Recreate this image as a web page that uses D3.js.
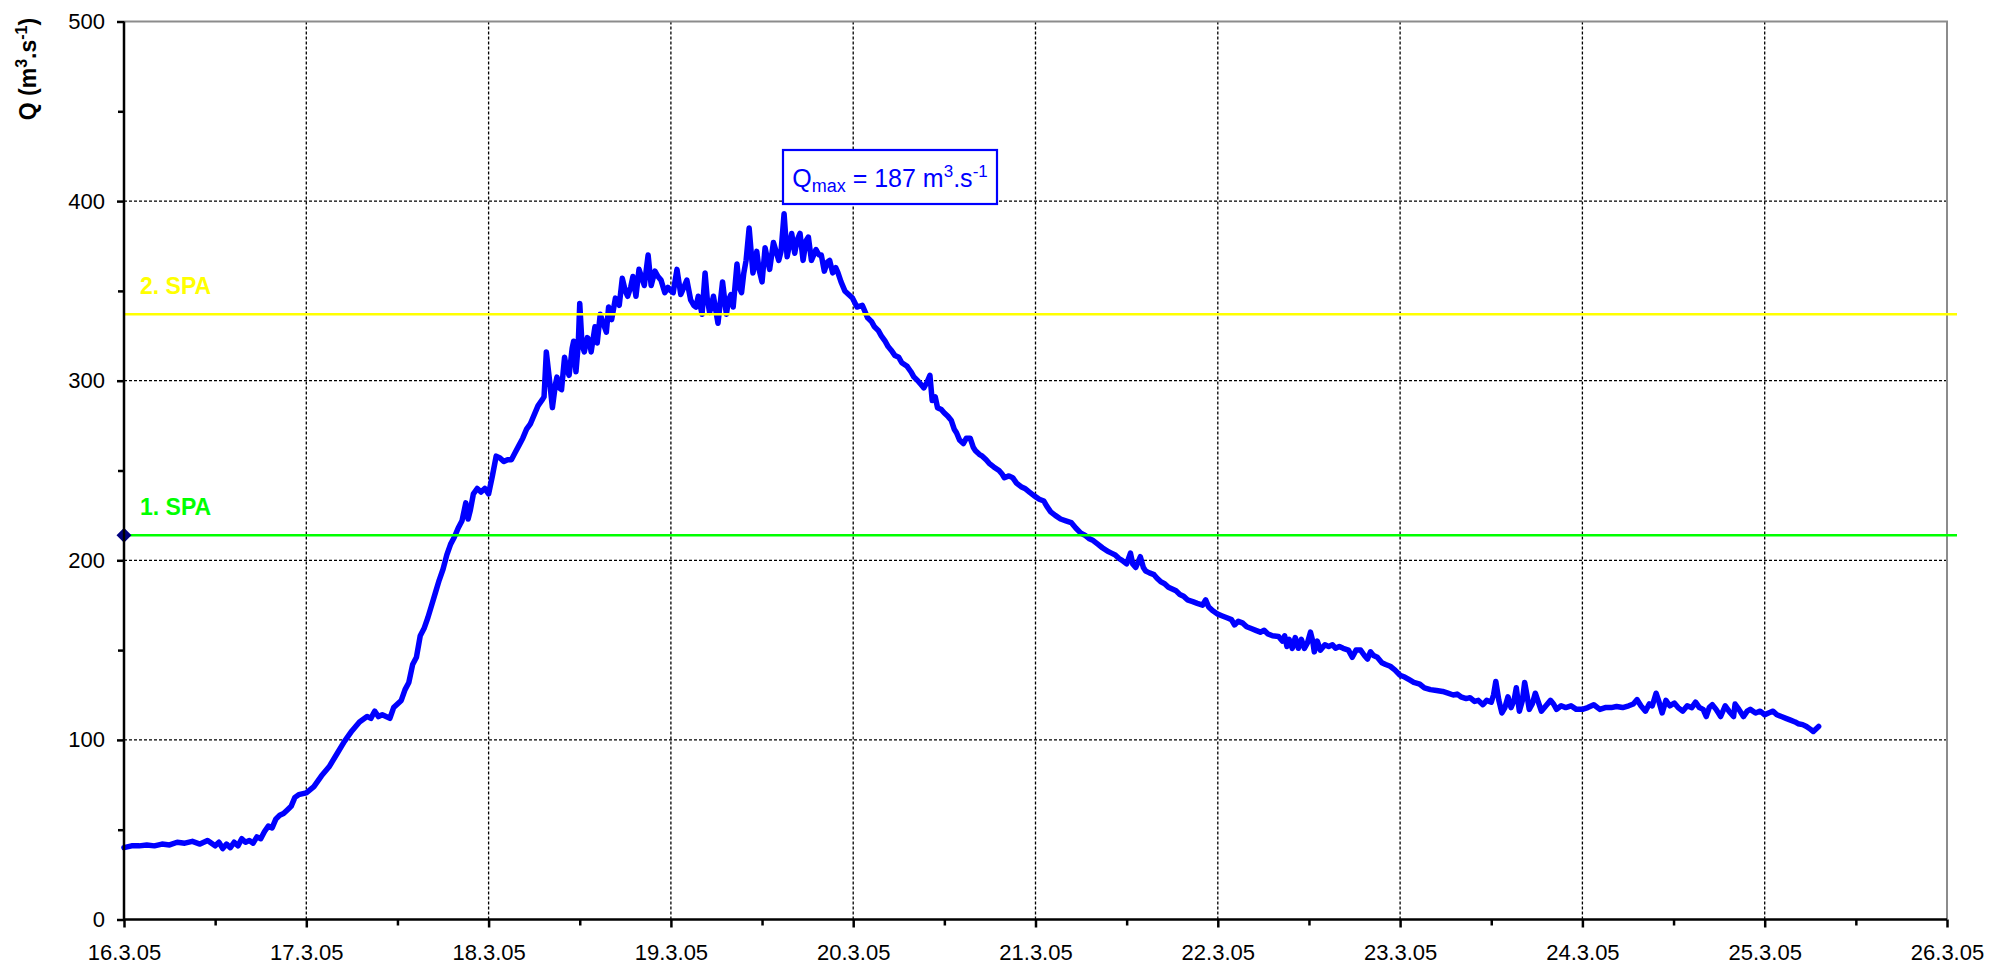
<!DOCTYPE html>
<html>
<head>
<meta charset="utf-8">
<script src="https://cdn.jsdelivr.net/npm/d3@7"></script>
<style>
  html, body { margin: 0; padding: 0; background: #fff; }
  svg { display: block; }
  text { font-family: "Liberation Sans", Arial, sans-serif; }
</style>
</head>
<body>
<svg id="chart" width="1992" height="967"></svg>
<script>
// Discharge record: hours since 16.3.2005 00:00 and flow Q in m3/s
const hours = [
  0,1,2,3,4,5,6,7,8,9,10,11,12,12.5,13,13.5,14,14.5,15,15.5,16,16.5,17,17.5,18,18.5,19,19.5,20,20.5,21,21.5,22,22.5,23,24,
  25,26,27,28,29,30,31,32,32.5,33,33.5,34,34.5,35,35.5,36,36.5,37,37.5,38,38.5,39,39.5,40,40.5,41,41.5,42,42.5,43,43.5,44,44.5,45,45.3,45.6,46,46.5,47,47.5,48,
  48.5,49,49.5,50,50.5,51,51.5,52,52.5,53,53.5,54,54.5,55,55.3,55.6,56,56.4,56.8,57,57.3,57.6,58,58.3,58.6,59,59.2,59.5,59.8,60,60.3,60.6,61,61.3,61.5,62,62.3,62.7,63,63.5,63.8,64.2,64.7,65.2,65.6,66,66.3,66.7,67,67.4,67.8,68.2,68.5,69,69.4,69.9,70.3,70.7,71.2,71.6,72,
  72.3,72.8,73.3,73.7,74.1,74.6,75,75.3,75.6,76.1,76.5,76.8,77.1,77.6,78.2,78.8,79.3,79.6,79.9,80.2,80.7,81,81.3,81.6,81.9,82.3,82.8,83.3,83.6,84,84.4,84.7,85,85.5,86.2,86.5,86.9,87.3,87.9,88.3,88.6,89,89.4,89.8,90.1,90.5,91.1,91.5,91.8,92.2,92.6,92.9,93.3,93.7,94,94.4,94.9,95.4,95.9,
  96.5,97.2,97.9,98.4,98.8,99.3,99.7,100.2,100.6,101,101.5,102,102.4,103.1,103.6,104,104.5,104.9,105.3,105.7,106.1,106.4,106.8,107.1,107.6,108,108.5,108.9,109.3,109.6,110,110.5,110.9,111.4,111.8,112.1,112.6,113,113.5,113.9,114.5,115.2,115.6,115.9,116.5,117,117.5,118.1,118.6,119.2,119.8,120.5,
  121.1,121.5,122,122.6,123.3,124,124.7,125.3,126,126.5,127.1,127.6,128.2,128.8,129.5,130,130.5,131,131.4,132,132.5,132.8,133.2,133.8,134.2,134.5,135,135.6,136,136.5,137,137.5,138,138.5,139,139.5,140,140.7,141.3,142,142.4,142.8,143.3,144,
  144.6,145.2,145.8,146.2,146.7,147.3,147.8,148.4,149,149.6,150.1,150.6,151.2,152,152.5,152.8,153.1,153.4,153.8,154.2,154.6,155,155.4,155.8,156.2,156.5,156.7,157.1,157.5,158.1,158.6,159.1,159.5,160,160.5,161.2,161.7,162.2,162.8,163.3,163.7,164.1,164.5,165,165.6,166.1,166.7,167.3,168,
  168.6,169.2,169.8,170.6,171.2,172,172.8,173.6,174.3,175,175.5,176,176.7,177.2,177.8,178.3,178.9,179.4,180,180.3,180.6,181,181.4,181.8,182.2,182.6,183,183.3,183.7,184.1,184.4,184.7,185,185.4,185.8,186.2,186.6,187.2,187.8,188.2,188.6,189.2,189.8,190.5,191.2,192,
  192.7,193.5,194.3,195,195.8,196.5,197.3,198.1,198.7,199.2,199.7,200.3,200.8,201.2,201.7,202.1,202.5,203,203.5,204.1,204.6,205.2,205.8,206.4,206.9,207.4,207.9,208.3,208.7,209.1,209.6,210.2,210.8,211.3,211.9,212.1,212.6,213.2,213.7,214.1,214.8,215.4,216,216.5,217.1,217.6,218.2,218.8,219.4,220,220.4,221,221.5,222,222.4,223.1
];
const flow = [
  40,41,41,41.5,41,42,41.5,43,42.5,43.5,42,44,41,43,39.5,42,40,43,41,45,43,44,42.5,46,45,49,52,51,56,58,59,61,63,68,69.5,70.5,
  74,80,85,92,99,105,110,113,112,116,113,114,113,112,118,120,122,128,132,142,146,158,162,168,175,182,189,195,203,209,213,218,222,232,223,228,237,240,238,240,237,
  247,258,257,255,256,256,260,264,268,273,276,281,286,289,291,316,301,285,298,302,296,295,313,306,303,318,322,305,320,343,320,316,324,322,316,330,321,337,333,327,341,334,346,342,357,350,347,352,358,347,362,357,353,370,353,361,358,356,349,352,350,
  349,362,348,352,356,345,342,341,347,337,360,345,338,347,332,355,337,345,348,341,365,352,349,360,367,385,360,372,362,355,374,368,362,377,367,372,393,369,382,371,378,382,367,378,380,367,373,370,370,361,366,367,360,363,360,355,350,348,346,
  341,342,335,333,330,328,325,322,319,317,314,313,310,308,305,302,300,298,296,299,303,289,291,285,284,282,280,278,273,271,267,265,268,268,263,261,259,258,256,254,252,250,248,246,247,246,243,241,240,238,236,234,
  233,230,227,225,223,222,221,218,215,214,212,211,209,207,205,204,203,201,200,198,204,198,196,202,196,194,193,192,190,188,187,185,184,183,181,180,178,177,176,175,178,174,172,170,
  169,168,167,164,166,165,163,162,161,160,161,159,158,157.6,155,158,152,156,151,157,151,156,151,154,160,155,149,155,150,153,152,153,151,152,151,150,146,150,150,147,145,149,147,146,143,142,141,139,136,
  135,133.5,132,131,129,128,127.5,127,126,125,125.5,124,123,123.5,121.4,122,119.6,122,121,125,132.5,122,115,118,124,118,122,129,116,122,132,125,117,120,126,121,116,119,122,120,117,119,118,119,117,117,
  118,119.6,117,118,118,118.6,118,119,120,122.4,119,116,120,119,126,121,115,122,119,120.5,118,116,119,118,121,118,117,113,118,119.6,117,113,119,116,113,120,117,113,116,117,115,116,114,115,116,114,113,112,111,110,109,108.5,107.5,106,104.7,107.5
];

// Alert levels (stupně povodňové aktivity)
const spaLevels = [214, 337];
const spaLabels = ["1. SPA", "2. SPA"];
const spaColors = ["#00ff00", "#ffff00"];

const yTicks = [0, 100, 200, 300, 400, 500];
const yMinorTicks = [50, 150, 250, 350, 450];
const dayTicks = d3.range(16, 27).map(d => new Date(2005, 2, d));
const midDayTicks = d3.range(16, 26).map(d => new Date(2005, 2, d, 12));

const qmaxValue = 187;

const svg = d3.select("#chart");
const plotLeft = 124, plotRight = 1947, plotTop = 21.5, plotBottom = 919.5;

const start = new Date(2005, 2, 16);
const x = d3.scaleTime()
  .domain([new Date(2005, 2, 16), new Date(2005, 2, 26)])
  .range([plotLeft, plotRight]);
const y = d3.scaleLinear().domain([0, 500]).range([plotBottom, plotTop]);

const data = hours.map((h, i) => ({ t: new Date(start.getTime() + h * 3600e3), q: flow[i] }));

// Grid
const grid = svg.append("g").attr("stroke", "#000").attr("stroke-width", 1.3).attr("stroke-dasharray", "3,2");
grid.selectAll("line.h").data(yTicks.filter(v => v > 0 && v < 500)).join("line")
  .attr("x1", plotLeft).attr("x2", plotRight).attr("y1", d => y(d)).attr("y2", d => y(d));
grid.selectAll("line.v").data(dayTicks.slice(1, -1)).join("line")
  .attr("x1", d => x(d)).attr("x2", d => x(d)).attr("y1", plotTop).attr("y2", plotBottom);

// Plot frame (top and right in grey)
svg.append("path")
  .attr("d", `M${plotLeft},${plotTop}H${plotRight}V${plotBottom}`)
  .attr("fill", "none").attr("stroke", "#8c8c8c").attr("stroke-width", 2);

// Discharge line
svg.append("path")
  .datum(data)
  .attr("fill", "none")
  .attr("stroke", "#0000ff")
  .attr("stroke-width", 5.5)
  .attr("stroke-linejoin", "round")
  .attr("stroke-linecap", "round")
  .attr("d", d3.line().x(d => x(d.t)).y(d => y(d.q)));

// Alert level lines and labels
spaLevels.forEach((lv, i) => {
  svg.append("line")
    .attr("x1", plotLeft).attr("x2", plotRight + 10)
    .attr("y1", y(lv)).attr("y2", y(lv))
    .attr("stroke", spaColors[i]).attr("stroke-width", 2.5);
  svg.append("text")
    .attr("x", plotLeft + 16).attr("y", y(lv) - 20)
    .attr("fill", spaColors[i])
    .attr("font-weight", "bold")
    .attr("font-size", 23)
    .text(spaLabels[i]);
});

// Marker at the first alert level on the axis
svg.append("path")
  .attr("transform", `translate(${plotLeft},${y(spaLevels[0])})`)
  .attr("d", "M0,-7.5L7.5,0L0,7.5L-7.5,0Z")
  .attr("fill", "#000080");

// Axes
const yAxis = svg.append("g").attr("transform", `translate(${plotLeft},0)`)
  .call(d3.axisLeft(y).tickValues(yTicks).tickSize(7).tickPadding(12));
svg.append("g").attr("transform", `translate(${plotLeft},0)`)
  .call(d3.axisLeft(y).tickValues(yMinorTicks).tickSize(6).tickFormat(""))
  .call(g => g.select(".domain").remove());

const fmt = d3.timeFormat("%-d.%-m.%y");
const xAxis = svg.append("g").attr("transform", `translate(0,${plotBottom})`)
  .call(d3.axisBottom(x).tickValues(dayTicks).tickFormat(fmt).tickSize(8).tickPadding(17));
svg.append("g").attr("transform", `translate(0,${plotBottom})`)
  .call(d3.axisBottom(x).tickValues(midDayTicks).tickSize(6).tickFormat(""))
  .call(g => g.select(".domain").remove());

svg.selectAll(".tick line").attr("stroke", "#000").attr("stroke-width", 2.5);
svg.selectAll(".domain").attr("stroke", "#000").attr("stroke-width", 2.5);
svg.selectAll(".tick text")
  .attr("font-family", "'Liberation Sans', Arial, sans-serif")
  .attr("font-size", 22).attr("fill", "#000");
xAxis.select(".domain").attr("d", `M${plotLeft},0H${plotRight}`);
yAxis.select(".domain").attr("d", `M0,${plotBottom}V${plotTop}`);

// Y axis title
const yTitle = svg.append("text")
  .attr("transform", "translate(36,69) rotate(-90)")
  .attr("text-anchor", "middle")
  .attr("font-weight", "bold")
  .attr("font-size", 23)
  .attr("fill", "#000");
yTitle.append("tspan").text("Q (m");
yTitle.append("tspan").attr("font-size", 16).attr("dy", -9).text("3");
yTitle.append("tspan").attr("dy", 9).text(".s");
yTitle.append("tspan").attr("font-size", 16).attr("dy", -9).text("-1");
yTitle.append("tspan").attr("dy", 9).text(")");

// Peak discharge annotation
const box = svg.append("g");
box.append("rect")
  .attr("x", 783).attr("y", 150).attr("width", 214).attr("height", 54)
  .attr("fill", "#fff").attr("stroke", "#0000ff").attr("stroke-width", 2.2);
const qt = box.append("text")
  .attr("x", 890).attr("y", 187)
  .attr("text-anchor", "middle")
  .attr("font-size", 25)
  .attr("fill", "#0000ff");
qt.append("tspan").text("Q");
qt.append("tspan").attr("font-size", 18).attr("dy", 5).text("max");
qt.append("tspan").attr("dy", -5).text(` = ${qmaxValue} m`);
qt.append("tspan").attr("font-size", 17).attr("dy", -10).text("3");
qt.append("tspan").attr("dy", 10).text(".s");
qt.append("tspan").attr("font-size", 17).attr("dy", -10).text("-1");
</script>
</body>
</html>
